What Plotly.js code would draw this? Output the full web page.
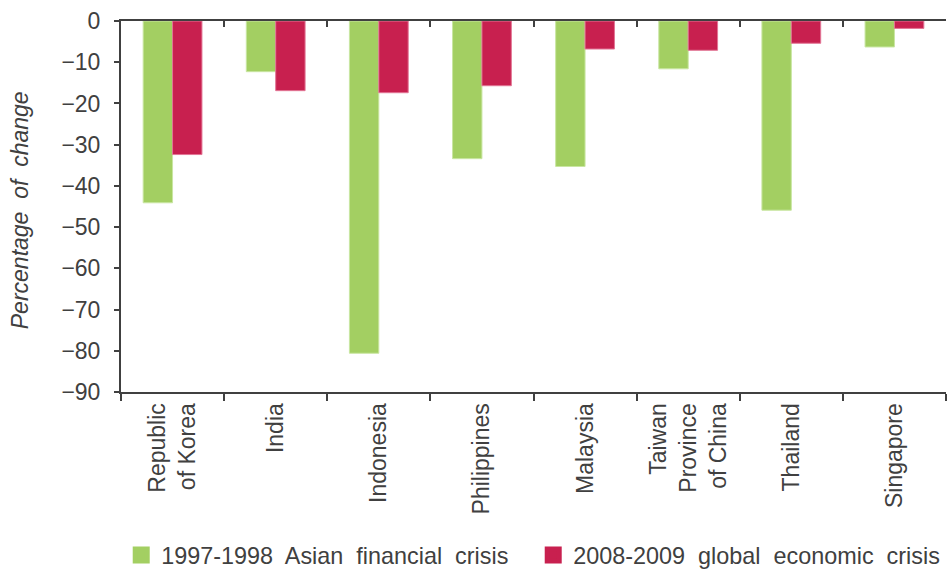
<!DOCTYPE html>
<html>
<head>
<meta charset="utf-8">
<script src="https://cdn.plot.ly/plotly-3.0.1.min.js"></script>
<style>html,body{margin:0;padding:0;background:#fff;}</style>
</head>
<body>
<div id="chart" style="width:947px;height:572px;"></div>
<script>
const categories = ["Republic<br>of Korea", "India", "Indonesia", "Philippines", "Malaysia", "Taiwan<br>Province<br>of China", "Thailand", "Singapore"];
const asianCrisis = [-44.1, -12.3, -80.6, -33.4, -35.3, -11.6, -45.9, -6.3];
const globalCrisis = [-32.4, -16.9, -17.4, -15.7, -6.8, -7.1, -5.4, -1.8];
const yTicks = [0, -10, -20, -30, -40, -50, -60, -70, -80, -90];
const seriesNames = ["1997-1998\u00a0 Asian\u00a0 financial\u00a0 crisis", "2008-2009\u00a0 global\u00a0 economic\u00a0 crisis"];
const yTitle = "<i>Percentage\u00a0 of\u00a0 change</i>";

const green = "#a3cf62";
const red = "#c8204f";
const textColor = "#404040";
const font = {family: "Liberation Sans, Arial, sans-serif", size: 23, color: textColor};
const legendFont = {family: "Liberation Sans, Arial, sans-serif", size: 23.4, color: textColor};
const nulls = categories.map(() => null);

const data = [
  {type: "bar", x: categories, y: asianCrisis, name: seriesNames[0], showlegend: false,
   marker: {color: green, line: {color: "#c9e6a2", width: 1}}, xaxis: "x", yaxis: "y", hoverinfo: "x+y"},
  {type: "bar", x: categories, y: globalCrisis, name: seriesNames[1], showlegend: false,
   marker: {color: red, line: {color: "#e27595", width: 1}}, xaxis: "x", yaxis: "y", hoverinfo: "x+y"},
  {type: "bar", x: categories, y: nulls, name: seriesNames[0], showlegend: true,
   marker: {color: green, line: {color: green, width: 5}}, xaxis: "x2", yaxis: "y"},
  {type: "bar", x: categories, y: nulls, name: seriesNames[1], showlegend: true,
   marker: {color: red, line: {color: red, width: 5}}, xaxis: "x2", yaxis: "y"}
];

const layout = {
  width: 947, height: 572,
  margin: {l: 121, r: 1, t: 21, b: 180, autoexpand: false},
  paper_bgcolor: "#fff", plot_bgcolor: "#fff",
  font: font,
  barmode: "group", bargap: 0.43, bargroupgap: 0,
  showlegend: true,
  legend: {orientation: "h", xref: "container", x: 0.128, xanchor: "left", y: -0.44, yanchor: "middle",
           font: legendFont, traceorder: "normal", entrywidth: 367, entrywidthmode: "pixels",
           bgcolor: "rgba(0,0,0,0)"},
  xaxis: {type: "category", categoryorder: "array", categoryarray: categories, range: [-0.5, 7.5],
          showline: true, linecolor: textColor, linewidth: 2, mirror: true, automargin: false,
          ticks: "outside", tickson: "boundaries", ticklen: 7, tickwidth: 2, tickcolor: textColor,
          tickangle: -90, tickfont: font, showgrid: false, zeroline: false, fixedrange: true},
  xaxis2: {type: "category", categoryorder: "array", categoryarray: categories, range: [-0.5, 7.5],
           overlaying: "x", side: "top", showline: false, automargin: false,
           ticks: "inside", tickson: "boundaries", ticklen: 6, tickwidth: 2, tickcolor: textColor,
           showticklabels: false, showgrid: false, zeroline: false, fixedrange: true},
  yaxis: {range: [-90, 0], tickvals: yTicks, showline: true, linecolor: textColor, linewidth: 2,
          automargin: false,
          ticks: "outside", ticklen: 5, tickwidth: 2, tickcolor: textColor, ticklabelstandoff: 9,
          tickfont: font, showgrid: false, zeroline: false, fixedrange: true},
  annotations: [
    {text: yTitle, xref: "paper", yref: "paper", x: -0.1224, y: 0.49, xanchor: "center", yanchor: "middle",
     textangle: -90, showarrow: false,
     font: {family: "Liberation Sans, Arial, sans-serif", size: 23, color: textColor}}
  ]
};

Plotly.newPlot("chart", data, layout, {displayModeBar: false, staticPlot: true});
</script>
</body>
</html>
